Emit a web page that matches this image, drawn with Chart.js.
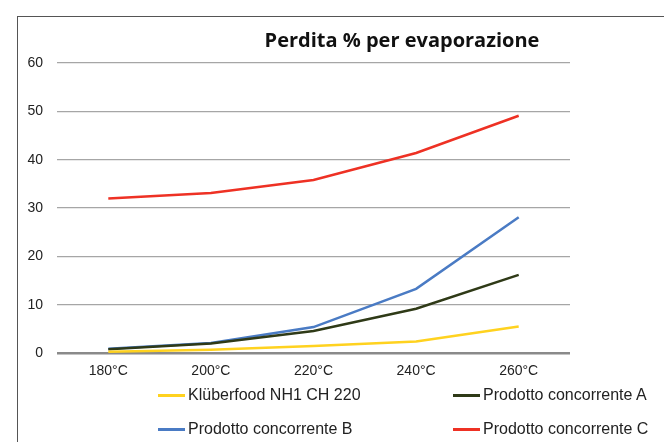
<!DOCTYPE html>
<html>
<head>
<meta charset="utf-8">
<script src="https://cdn.jsdelivr.net/npm/chart.js@4/dist/chart.umd.min.js"></script>
<style>
  html, body { margin: 0; padding: 0; background: #fff; overflow: hidden; }
  #wrap { position: relative; width: 664px; height: 442px; }
  #frame { position: absolute; left: 17px; top: 16px; width: 700px; height: 500px; border: 1.5px solid #555; }
  #chart { position: absolute; left: 0; top: 0; }
  #title { position: absolute; left: 0; width: 804px; top: 27px; text-align: center;
           font-family: "Open Sans", sans-serif; font-weight: bold; font-size: 20px; line-height: 26px; color: #111; }
  #legend { position: absolute; left: 158px; top: 385px; display: grid;
            grid-template-columns: 295px 200px; row-gap: 14px;
            font-family: "Liberation Sans", Arial, sans-serif; font-size: 16px; color: #222; }
  .item { display: flex; align-items: center; height: 20px; white-space: nowrap; }
  .mark { width: 27px; height: 3px; margin-right: 3px; }
</style>
</head>
<body>
<div id="wrap">
  <div id="frame"></div>
  <canvas id="chart" width="664" height="442"></canvas>
  <div id="title">Perdita % per evaporazione</div>
  <div id="legend"></div>
</div>
<script>
// temperature steps
var categories = ["180°C", "200°C", "220°C", "240°C", "260°C"];

// perdita % per serie
var kluberfood = [0.3, 0.7, 1.5, 2.4, 5.5];
var concorrenteA = [0.8, 2.0, 4.6, 9.2, 16.2];
var concorrenteB = [0.9, 2.1, 5.4, 13.3, 28.1];
var concorrenteC = [32.0, 33.1, 35.8, 41.4, 49.1];

var yTicks = [0, 10, 20, 30, 40, 50, 60];

var seriesNames = ["Klüberfood NH1 CH 220", "Prodotto concorrente A", "Prodotto concorrente B", "Prodotto concorrente C"];
var seriesColors = ["#FFD21F", "#2F3A17", "#4A7BC4", "#EE3124"];
var seriesData = [kluberfood, concorrenteA, concorrenteB, concorrenteC];

var datasets = seriesData.map(function (d, i) {
    return {
        label: seriesNames[i],
        data: d,
        borderColor: seriesColors[i],
        backgroundColor: seriesColors[i],
        borderWidth: 2.5,
        pointRadius: 0,
        tension: 0,
        fill: false
    };
});

// legend, row by row like the picture
var legend = document.getElementById("legend");
seriesNames.forEach(function (name, i) {
    var item = document.createElement("div");
    item.className = "item";
    var mark = document.createElement("span");
    mark.className = "mark";
    mark.style.background = seriesColors[i];
    item.appendChild(mark);
    item.appendChild(document.createTextNode(name));
    legend.appendChild(item);
});

var ctx = document.getElementById("chart").getContext("2d");
var chart = new Chart(ctx, {
    type: "line",
    data: { labels: categories, datasets: datasets },
    options: {
        responsive: false,
        animation: false,
        layout: { padding: { left: 0, right: 94, top: 63, bottom: 60 } },
        plugins: {
            legend: { display: false },
            tooltip: { enabled: false },
            title: { display: false }
        },
        scales: {
            x: {
                offset: true,
                grid: { display: false },
                border: { display: false },
                ticks: {
                    color: "#222",
                    padding: 2,
                    maxRotation: 0,
                    font: { family: "Liberation Sans", size: 14 }
                }
            },
            y: {
                min: 0,
                max: 60,
                afterBuildTicks: function (axis) {
                    axis.ticks = yTicks.map(function (v) { return { value: v }; });
                },
                afterFit: function (axis) { axis.width = 57; },
                border: { display: false },
                grid: {
                    drawTicks: false,
                    color: function (c) { return c.tick && c.tick.value === 0 ? "#8a8a8a" : "#a6a6a6"; },
                    lineWidth: function (c) { return c.tick && c.tick.value === 0 ? 2.5 : 1.3; }
                },
                ticks: {
                    color: "#222",
                    padding: 14,
                    font: { family: "Liberation Sans", size: 14 }
                }
            }
        }
    }
});
</script>
</body>
</html>
